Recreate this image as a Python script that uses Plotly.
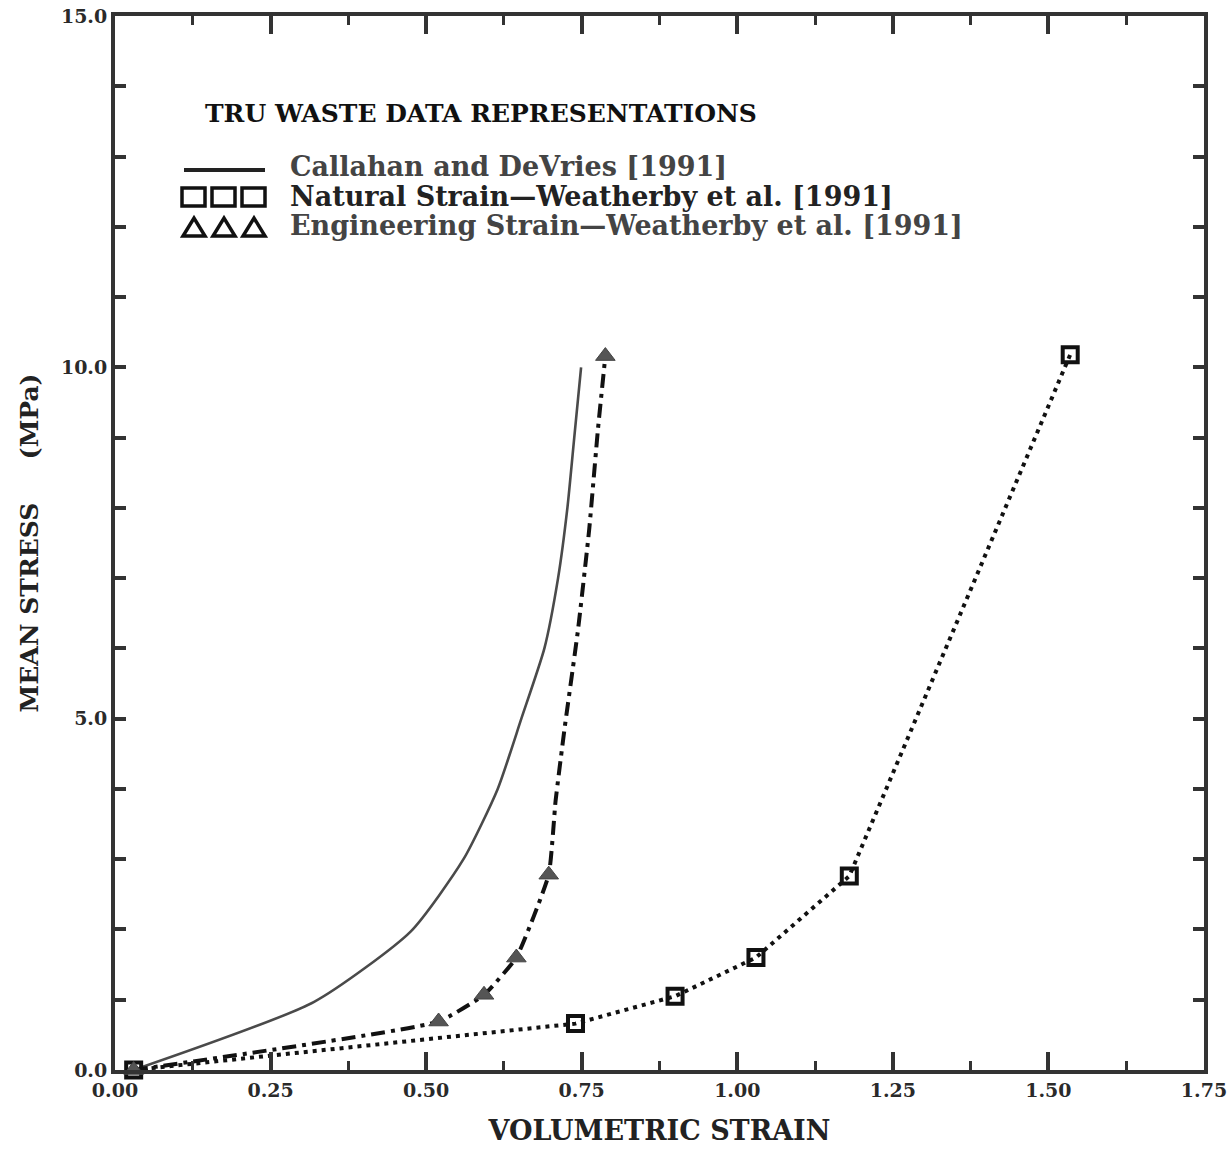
import plotly.graph_objects as go

# Callahan and DeVries [1991] consolidation curve
callahan_strain = [0.03, 0.32, 0.475, 0.56, 0.615, 0.653, 0.69, 0.712, 0.727, 0.738, 0.749]
callahan_stress = [0.0, 0.97, 1.97, 3.0, 4.0, 5.0, 6.0, 7.0, 8.0, 9.0, 10.0]

# Weatherby et al. [1991] - natural strain points
natural_strain = [0.03, 0.74, 0.90, 1.03, 1.18, 1.535]
natural_stress = [0.0, 0.66, 1.05, 1.6, 2.76, 10.18]

# Weatherby et al. [1991] - engineering strain points
eng_strain = [0.03, 0.52, 0.593, 0.645, 0.697, 0.788]
eng_stress = [0.0, 0.69, 1.07, 1.6, 2.78, 10.16]

# smooth upper branch of the engineering-strain curve
eng_curve_strain = [0.03, 0.52, 0.593, 0.645, 0.697, 0.708, 0.722, 0.744, 0.762, 0.776, 0.788]
eng_curve_stress = [0.0, 0.69, 1.07, 1.6, 2.78, 3.83, 4.83, 6.26, 7.69, 9.11, 10.16]

x_ticks = [0.0, 0.25, 0.5, 0.75, 1.0, 1.25, 1.5, 1.75]
y_ticks = [0.0, 5.0, 10.0, 15.0]

FONT = "DejaVu Serif"
INK = "#2a2a2a"

fig = go.Figure()

fig.add_trace(go.Scatter(
    x=callahan_strain, y=callahan_stress, mode="lines",
    line=dict(color="#4a4a4a", width=2.6, shape="spline", smoothing=0.6),
    showlegend=False, cliponaxis=False))

fig.add_trace(go.Scatter(
    x=eng_curve_strain, y=eng_curve_stress, mode="lines",
    line=dict(color="#111", width=4, dash="14px,6px,4px,6px",
              shape="spline", smoothing=0.4),
    showlegend=False, cliponaxis=False))

fig.add_trace(go.Scatter(
    x=natural_strain, y=natural_stress, mode="lines+markers",
    line=dict(color="#111", width=4, dash="4px,5px"),
    marker=dict(symbol="square-open", size=15, color="#111",
                line=dict(width=4, color="#111")),
    showlegend=False, cliponaxis=False))

fig.add_trace(go.Scatter(
    x=eng_strain, y=eng_stress, mode="markers",
    marker=dict(symbol="triangle-up", size=17, color="#555",
                line=dict(width=1, color="#444")),
    showlegend=False, cliponaxis=False))

# plot-area geometry in pixels, used to place the key
PL, PR, PT, PB = 115, 1204, 16, 1070


def px(xp):
    return (xp - PL) / (PR - PL)


def py(yp):
    return (PB - yp) / (PB - PT)


annotations = [
    dict(text="TRU WASTE DATA REPRESENTATIONS", x=px(203), y=py(113),
         font=dict(size=25, family=FONT, weight="bold", color="#111")),
    dict(text="Callahan and DeVries [1991]", x=px(288), y=py(166),
         font=dict(size=27, family=FONT, weight="bold", color="#444")),
    dict(text="Natural Strain\u2014Weatherby et al. [1991]", x=px(288), y=py(196),
         font=dict(size=27, family=FONT, weight="bold", color="#222")),
    dict(text="Engineering Strain\u2014Weatherby et al. [1991]", x=px(288), y=py(226),
         font=dict(size=27, family=FONT, weight="bold", color="#444")),
]
for a in annotations:
    a.update(xref="paper", yref="paper", xanchor="left", yanchor="middle",
             showarrow=False)

shapes = [
    # solid-line key
    dict(type="line", xref="paper", yref="paper",
         x0=px(184), x1=px(265), y0=py(170), y1=py(170),
         line=dict(color="#222", width=4)),
]
# three open squares
for x0 in (182, 212, 242):
    shapes.append(dict(type="rect", xref="paper", yref="paper",
                       x0=px(x0), x1=px(x0 + 23), y0=py(188), y1=py(206),
                       line=dict(color="#111", width=3.5)))
# three open triangles
for x0 in (183, 213, 243):
    path = (f"M {px(x0)},{py(236)} L {px(x0 + 22)},{py(236)} "
            f"L {px(x0 + 11)},{py(218)} Z")
    shapes.append(dict(type="path", xref="paper", yref="paper", path=path,
                       line=dict(color="#111", width=3.5)))

fig.update_layout(
    width=1230, height=1151,
    margin=dict(l=PL, r=1230 - PR, t=PT, b=1151 - PB, autoexpand=False),
    paper_bgcolor="white", plot_bgcolor="white",
    font=dict(family=FONT, color=INK),
    annotations=annotations, shapes=shapes,
    xaxis=dict(
        range=[0, 1.75], tickvals=x_ticks, tickformat=".2f",
        ticklabeloverflow="allow", automargin=False,
        ticks="inside", ticklen=18, tickwidth=4, tickcolor="#333",
        minor=dict(dtick=0.125, tick0=0, ticks="inside", ticklen=9,
                   tickwidth=3, tickcolor="#333"),
        showline=True, linewidth=4, linecolor="#333", mirror="allticks",
        showgrid=False, zeroline=False,
        tickfont=dict(size=19, family=FONT, weight="bold", color=INK),
        title=dict(text="VOLUMETRIC STRAIN", standoff=22,
                   font=dict(size=27, family=FONT, weight="bold", color="#222")),
    ),
    yaxis=dict(
        range=[0, 15], tickvals=y_ticks, tickformat=".1f",
        ticklabeloverflow="allow", automargin=False,
        ticks="inside", ticklen=11, tickwidth=4, tickcolor="#333",
        minor=dict(dtick=1, tick0=0, ticks="inside", ticklen=11,
                   tickwidth=4, tickcolor="#333"),
        showline=True, linewidth=4, linecolor="#333", mirror="allticks",
        showgrid=False, zeroline=False,
        tickfont=dict(size=19, family=FONT, weight="bold", color=INK),
        title=dict(text="MEAN STRESS\u00a0\u00a0\u00a0\u00a0\u00a0(MPa)", standoff=16,
                   font=dict(size=25, family=FONT, weight="bold", color="#222")),
    ),
)

fig.write_html("out.html")
